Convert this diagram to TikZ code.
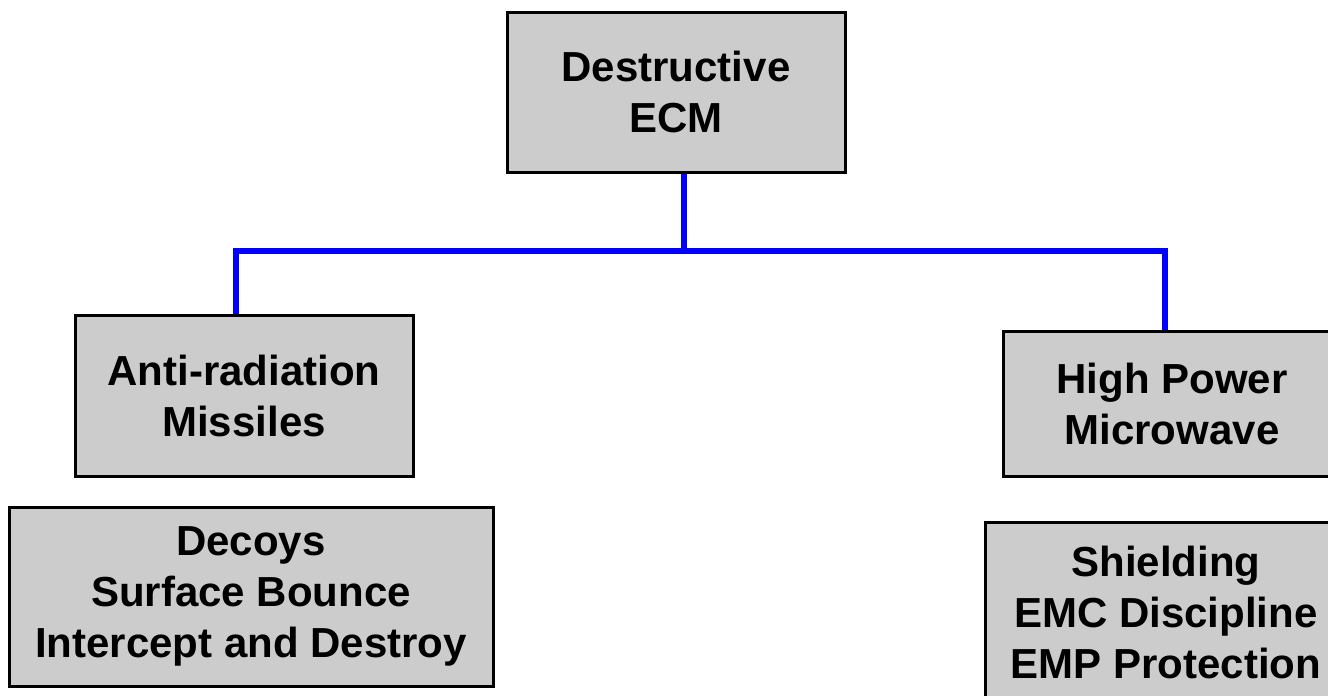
\documentclass[tikz,border=0pt]{standalone}
\usepackage{fontspec}
\setmainfont{Liberation Sans}
\definecolor{boxgray}{RGB}{204,204,204}
\tikzset{
  ecmbox/.style={draw=black, fill=boxgray, line width=1.5pt, align=center,
    inner sep=0pt, font=\fontsize{21}{25.5}\selectfont\bfseries},
  link/.style={draw=blue, line width=3.4pt}
}
\begin{document}
\begin{tikzpicture}[x=0.5pt, y=-0.5pt]
      \clip (0,0) rectangle (1328,696);
      \fill[white] (0,0) rectangle (1328,696);
      \node[ecmbox, minimum width=169pt, minimum height=80pt] (destr) at (676,92) {Destructive\\ECM};
      \node[ecmbox, minimum width=169pt, minimum height=80.5pt] (arm) at (244,395.5) {Anti-radiation\\Missiles};
      \node[ecmbox, minimum width=242pt, minimum height=89.5pt] (decoy) at (251,596.5) {Decoys\\Surface Bounce\\Intercept and Destroy};
      \node[ecmbox, minimum width=169pt, minimum height=72.5pt] (hpm) at (1172,403.5) {High Power\\Microwave};
      \node[ecmbox, minimum width=181pt, minimum height=90pt] (shield) at (1166,612) {Shielding\\EMC Discipline\\EMP Protection};
      \coordinate (hub) at (684,251);
      \coordinate (lft) at (236,251);
      \coordinate (rgt) at (1165,251);
      \draw[link] (destr.south -| hub) -- (hub);
      \draw[link] (lft) -- (rgt);
      \draw[link] ([yshift=1.7pt]lft) -- (lft |- arm.north);
      \draw[link] ([yshift=1.7pt]rgt) -- (rgt |- hpm.north);
    \end{tikzpicture}
\end{document}
